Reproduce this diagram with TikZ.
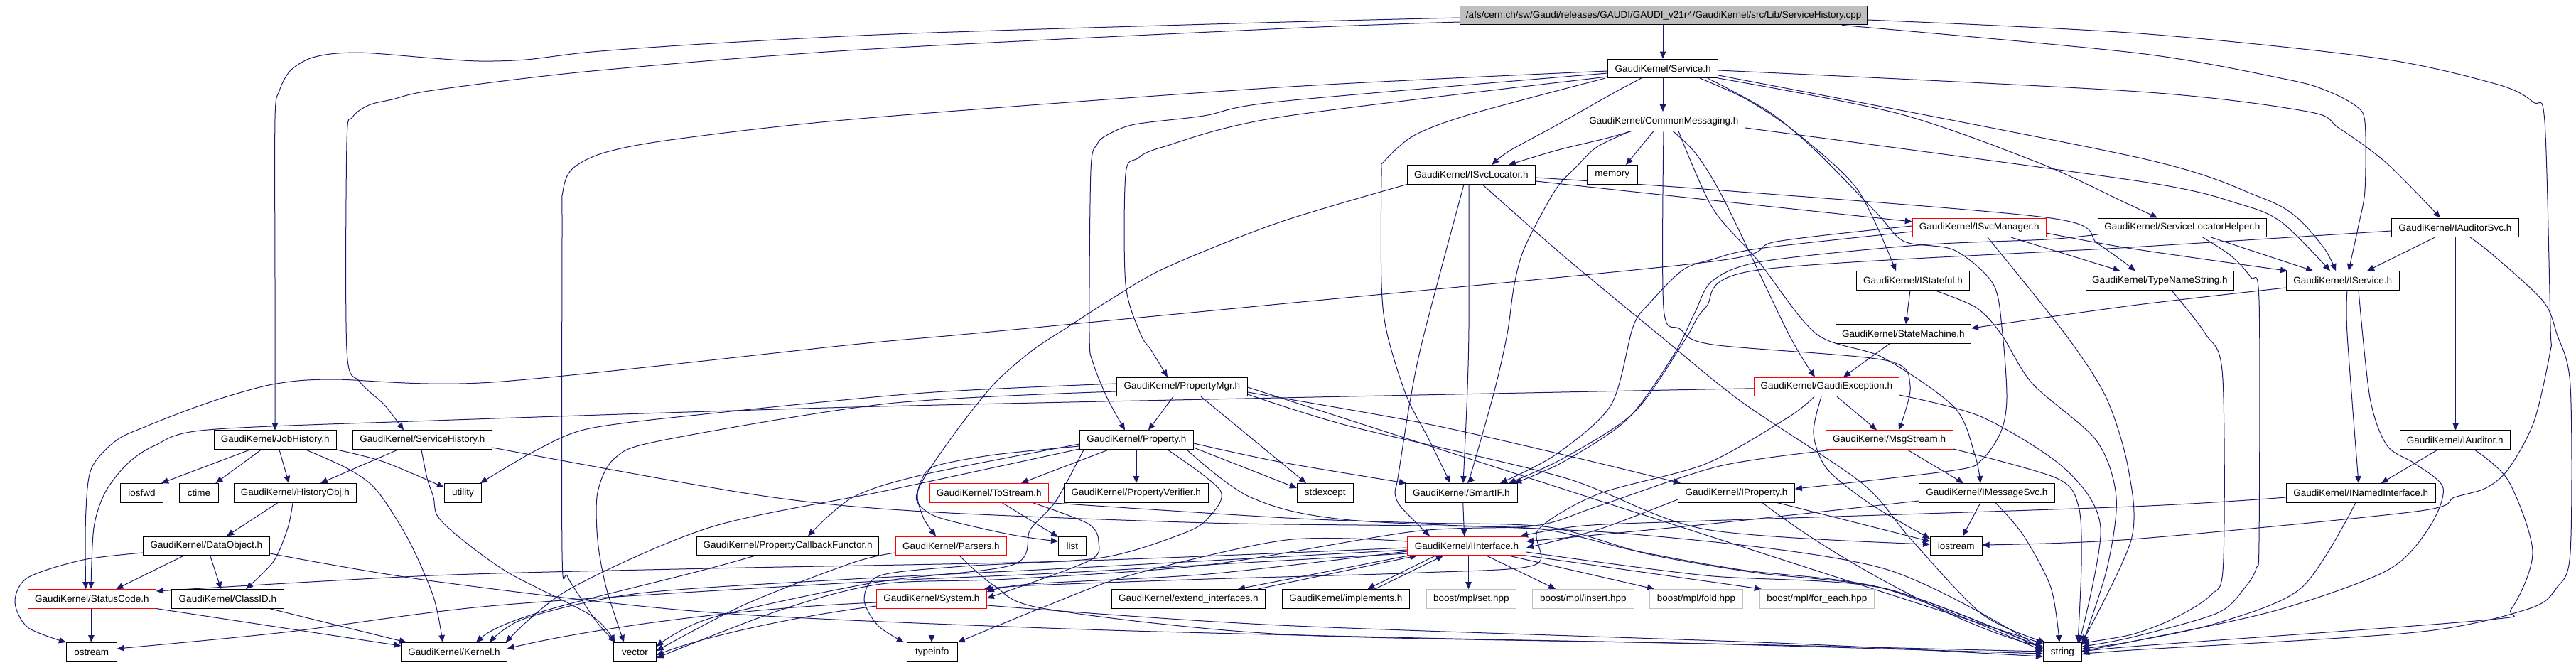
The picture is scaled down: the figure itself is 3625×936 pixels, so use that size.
\documentclass[tikz,border=0pt]{standalone}
\usepackage{fontspec}
\setmainfont{Liberation Sans}
\usetikzlibrary{arrows.meta}
\pgfdeclarelayer{bg}
\pgfsetlayers{bg,main}
\definecolor{edgec}{HTML}{191970}
\definecolor{grayb}{HTML}{BFBFBF}
\tikzset{
  nd/.style={draw=black, line width=1pt, rectangle, inner sep=0pt, minimum height=26.5pt,
    font=\fontsize{13.5pt}{16pt}\selectfont, text=black, fill=white},
  rednd/.style={nd, draw=red},
  graynd/.style={nd, draw=grayb},
  rootnd/.style={nd, fill=grayb},
  edg/.style={draw=edgec, line width=1pt, -{Triangle[length=10pt,width=8.5pt]}},
}
\newcommand\gn[5]{\node[#1,minimum width=#2pt] (#3) at (#4) {#5};}
\begin{document}
\begin{tikzpicture}[x=1pt,y=-1pt]
\useasboundingbox (0,0) rectangle (3625,936);
% ---------------- nodes ----------------
\gn{rootnd}{572.8}{root}{2341.2,21.7}{/afs/cern.ch/sw/Gaudi/releases/GAUDI/GAUDI\_v21r4/GaudiKernel/src/Lib/ServiceHistory.cpp}
\gn{nd}{154.6}{service}{2340.2,96.3}{GaudiKernel/Service.h}
\gn{nd}{228.4}{commsg}{2341.4,170.8}{GaudiKernel/CommonMessaging.h}
\gn{nd}{180.5}{isvcloc}{2070.4,245.8}{GaudiKernel/ISvcLocator.h}
\gn{nd}{71.6}{memory}{2268.8,245.8}{memory}
\gn{rednd}{188}{isvcmgr}{2785.3,320.3}{GaudiKernel/ISvcManager.h}
\gn{nd}{236.9}{slh}{3070.9,320.3}{GaudiKernel/ServiceLocatorHelper.h}
\gn{nd}{178.6}{iaudsvc}{3454.8,320.3}{GaudiKernel/IAuditorSvc.h}
\gn{nd}{159}{istateful}{2692,395}{GaudiKernel/IStateful.h}
\gn{nd}{208.2}{tns}{3039.4,395}{GaudiKernel/TypeNameString.h}
\gn{nd}{159}{isvc}{3296.7,395}{GaudiKernel/IService.h}
\gn{nd}{190.3}{statemachine}{2678.4,470}{GaudiKernel/StateMachine.h}
\gn{nd}{183.6}{propmgr}{1663.3,544.5}{GaudiKernel/PropertyMgr.h}
\gn{rednd}{203.8}{gaudiexc}{2570.4,544.5}{GaudiKernel/GaudiException.h}
\gn{nd}{171.6}{jobhist}{387.3,619.2}{GaudiKernel/JobHistory.h}
\gn{nd}{195.8}{servhist}{594.3,619.2}{GaudiKernel/ServiceHistory.h}
\gn{nd}{159.9}{property}{1599.3,619.2}{GaudiKernel/Property.h}
\gn{rednd}{179}{msgstream}{2658.7,619.2}{GaudiKernel/MsgStream.h}
\gn{nd}{154.6}{iauditor}{3454.8,619.2}{GaudiKernel/IAuditor.h}
\gn{nd}{60.3}{iosfwd}{199.4,693.8}{iosfwd}
\gn{nd}{54.8}{ctime}{279.9,693.8}{ctime}
\gn{nd}{171.6}{histobj}{415.3,693.8}{GaudiKernel/HistoryObj.h}
\gn{nd}{52.1}{utility}{651.4,693.8}{utility}
\gn{rednd}{166.5}{tostream}{1391.8,693.8}{GaudiKernel/ToStream.h}
\gn{nd}{203.1}{propverif}{1598.8,693.8}{GaudiKernel/PropertyVerifier.h}
\gn{nd}{79}{stdexcept}{1864.8,693.8}{stdexcept}
\gn{nd}{157.9}{smartif}{2056.4,693.8}{GaudiKernel/SmartIF.h}
\gn{nd}{163.9}{iproperty}{2443.4,693.8}{GaudiKernel/IProperty.h}
\gn{nd}{191}{imsgsvc}{2795.8,693.8}{GaudiKernel/IMessageSvc.h}
\gn{nd}{210.1}{inamed}{3322.2,693.8}{GaudiKernel/INamedInterface.h}
\gn{nd}{177.8}{dataobj}{290.4,768.3}{GaudiKernel/DataObject.h}
\gn{nd}{256.1}{pcf}{1108.6,768.3}{GaudiKernel/PropertyCallbackFunctor.h}
\gn{rednd}{156}{parsers}{1338.3,768.3}{GaudiKernel/Parsers.h}
\gn{nd}{38.9}{list}{1508.9,768.3}{list}
\gn{rednd}{166.9}{iinterface}{2064,768.3}{GaudiKernel/IInterface.h}
\gn{nd}{72.7}{iostream}{2752.7,768.3}{iostream}
\gn{rednd}{180.1}{statuscode}{129.4,842.8}{GaudiKernel/StatusCode.h}
\gn{nd}{158.3}{classid}{320.4,842.8}{GaudiKernel/ClassID.h}
\gn{rednd}{154.8}{system}{1310.9,842.8}{GaudiKernel/System.h}
\gn{nd}{215.5}{extend}{1672.3,842.8}{GaudiKernel/extend\_interfaces.h}
\gn{nd}{179}{implements}{1893.8,842.8}{GaudiKernel/implements.h}
\gn{graynd}{126}{set}{2070.4,842.8}{boost/mpl/set.hpp}
\gn{graynd}{142.8}{insert}{2227.8,842.8}{boost/mpl/insert.hpp}
\gn{graynd}{131.2}{fold}{2386.9,842.8}{boost/mpl/fold.hpp}
\gn{graynd}{161.1}{foreach}{2556.8,842.8}{boost/mpl/for\_each.hpp}
\gn{nd}{70.8}{ostream}{128.8,917.8}{ostream}
\gn{nd}{148.3}{kernel}{639,917.8}{GaudiKernel/Kernel.h}
\gn{nd}{59.9}{vector}{893.4,917.8}{vector}
\gn{nd}{71.2}{typeinfo}{1311.8,917.8}{typeinfo}
\gn{nd}{54.1}{string}{2902.4,917.8}{string}
% ---------------- edges ----------------
\begin{pgfonlayer}{bg}
\fill[white] (0,0) rectangle (3625,936);
% root
\draw[edg] (2340,0|-root.south) -- (2340,0|-service.north);
\draw[edg] plot[smooth] coordinates {(root.west|-0,25) (1810,31) (1433,42) (1210,50) (989,62) (833,73) (740,84) (674,86) (610,82) (539,76) (502,74) (465,76) (434,83) (408,100) (393,128) (387,167) (387,400) (387,0|-jobhist.north)};
\draw[edg] plot[smooth] coordinates {(root.west|-0,31) (1810,40) (1210,70) (833,100) (610,127) (552,140) (519,148) (496,165) (488,200) (488,493) (506,537) (541,570) (568,0|-servhist.north)};
\draw[edg] plot[smooth] coordinates {(2592,0|-root.south) (3010,75) (3219,112) (3275,128) (3315,149) (3328,172) (3328,267) (3319,317) (3305,0|-isvc.north)};
\draw[edg] plot[smooth] coordinates {(root.east|-0,28) (3010,47) (3347,82) (3515,119) (3565,144) (3581,172) (3589,460) (3589,493) (3566,593) (3530,660) (3498,687) (3454,700) (3399,720) (3000,759) (iostream.east|-0,767)};
% service
\draw[edg] (2340,0|-service.south) -- (2340,0|-commsg.north);
\draw[edg] plot[smooth] coordinates {(2309.6,0|-service.south) (2266.8,133) (2189,177) (2123,213) (2099.5,0|-isvcloc.north)};
\draw[edg] plot[smooth] coordinates {(service.west|-0,100) (1800,123) (1210,167) (950,196) (850,215) (805,238) (792,270) (791,330) (791,777) (798,810) (818,843) (841,877) (866,0|-vector.north)};
\draw[edg] plot[smooth] coordinates {(service.west|-0,103) (1800,143) (1694,163) (1597,175) (1558,190) (1544,203) (1535,240) (1533,470) (1538,510) (1558,560) (1583,0|-property.north)};
\draw[edg] plot[smooth] coordinates {(service.west|-0,108) (1800,165) (1636,207) (1601,223) (1584,245) (1584,400) (1605,470) (1620,493) (1643,0|-propmgr.north)};
\draw[edg] plot[smooth] coordinates {(2259,0|-service.south) (2072,160) (1991,190) (1948,227) (1944,247) (1944,400) (1952,470) (1979,557) (2010,617) (2041,0|-smartif.north)};
\draw[edg] plot[smooth] coordinates {(service.east|-0,99) (3010,129) (3247,157) (3291,180) (3359,230) (3434,0|-iaudsvc.north)};
\draw[edg] plot[smooth] coordinates {(service.east|-0,106) (3010,222) (3179,277) (3231,305) (3271,350) (3287,0|-isvc.north)};
\draw[edg] plot[smooth] coordinates {(service.south east) (2672,160) (2871,230) (2990,285) (3036,0|-slh.north)};
\draw[edg] plot[smooth] coordinates {(2392,0|-service.south) (2458,140) (2528,187) (2614,267) (2668,0|-istateful.north)};
\draw[edg] plot[smooth] coordinates {(2403,0|-service.south) (2489,157) (2556,213) (2641,300) (2680,340) (2750,352) (2805,400) (2818,470) (2824,560) (2816,607) (2789,647) (2750,662) (iproperty.east|-0,688)};
% commsg
\draw[edg] plot[smooth] coordinates {(2296,0|-commsg.south) (2259,195) (2189,212) (2123,0|-isvcloc.north)};
\draw[edg] (2327,0|-commsg.south) -- (2288,0|-memory.north);
\draw[edg] plot[smooth] coordinates {(commsg.east|-0,180) (3010,255) (3151,287) (3211,313) (3279,0|-isvc.north)};
\draw[edg] plot[smooth] coordinates {(2294,0|-commsg.south) (2247,207) (2220,233) (2189,267) (2146,347) (2131,400) (2121,470) (2103,550) (2072,660) (2064.5,0|-smartif.north)};
\draw[edg] plot[smooth] coordinates {(2354,0|-commsg.south) (2387,217) (2427,283) (2517,470) (2554,0|-gaudiexc.north)};
\draw[edg] plot[smooth] coordinates {(2362,0|-commsg.south) (2410,293) (2474,367) (2556,470) (2649,503) (2750,573) (2779,640) (2787,0|-imsgsvc.north)};
\draw[edg] plot[smooth] coordinates {(2341,0|-commsg.south) (2341,433) (2364,463) (2410,485) (2653,507) (2688,543) (2672,0|-msgstream.north)};
% isvcloc
\draw[edg] plot[smooth] coordinates {(isvcloc.east|-0,255) (2410,282) (isvcmgr.west|-0,312)};
\draw[edg] plot[smooth] coordinates {(isvcloc.east|-0,250) (2410,267) (2886,307) (2952,343) (3005,0|-tns.north)};
\draw[edg] plot[smooth] coordinates {(2067,0|-isvcloc.south) (2067,460) (2064.5,560) (2059,0|-smartif.north)};
\draw[edg] plot[smooth] coordinates {(2060,0|-isvcloc.south) (2004,470) (1985,560) (1967,673) (1963,693) (1971,713) (2012,0|-iinterface.north)};
\draw[edg] plot[smooth] coordinates {(2086,0|-isvcloc.south) (2200,360) (2333,470) (2450,565) (2620,680) (2690,760) (2790,865) (2878,0|-string.north)};
\draw[edg] plot[smooth] coordinates {(isvcloc.south west) (1800,313) (1640,377) (1562,422) (1503,460) (1453,493) (1402,537) (1356,593) (1313,653) (1293,687) (1291,707) (1320,728) (1420,752) (list.west|-0,762)};
% isvcmgr
\draw[edg] plot[smooth] coordinates {(isvcmgr.west|-0,326) (2474,350) (2410,365) (2368,380) (2321,427) (2298,460) (2267,570) (2189,640) (2111,0|-smartif.north)};
\draw[edg] (2830,0|-isvcmgr.south) -- (2983.5,0|-tns.north);
\draw[edg] plot[smooth] coordinates {(isvcmgr.east|-0,328) (3000,350) (3219,0|-isvc.north)};
\draw[edg] plot[smooth] coordinates {(2797,0|-isvcmgr.south) (2906,470) (2964,560) (2995,660) (2999,760) (string.north east)};
\draw[edg] plot[smooth] coordinates {(isvcmgr.west|-0,318) (2500,340) (2410,368) (1800,428) (1363,470) (1200,485) (693,538) (467,534) (389,540) (323,557) (264.5,577) (206,600) (163.4,620) (128.4,660) (120.6,727) (120.6,0|-statuscode.north)};
% gaudiexc
\draw[edg] plot[smooth] coordinates {(gaudiexc.west|-0,547) (2400,548) (1800,560) (1200,573) (610,592) (292,605) (218,627) (179,653) (148,693) (132,743) (128,0|-statuscode.north)};
\draw[edg] (2585,0|-gaudiexc.south) -- (2641,0|-msgstream.north);
\draw[edg] plot[smooth] coordinates {(2563,0|-gaudiexc.south) (2552,610) (2571,660) (2633,710) (iostream.west|-0,758)};
\draw[edg] plot[smooth] coordinates {(gaudiexc.east|-0,556) (2789,587) (2906,660) (2956,743) (2926,0|-string.north)};
\draw[edg] plot[smooth] coordinates {(2553,0|-gaudiexc.south) (2517,587) (2400,653) (2250,695) (2165,745) (2160,795) (2000,806) (1700,815) (1450,824) ([xshift=-4pt]system.north east)};
% statemachine / istateful
\draw[edg] (2659,0|-statemachine.south) -- (2594,0|-gaudiexc.north);
\draw[edg] (2688,0|-istateful.south) -- (2682,0|-statemachine.north);
\draw[edg] plot[smooth] coordinates {(2723,0|-istateful.south) (2781,433) (2816,470) (2860,540) (2950,620) (2978,700) (2965,800) (string.east|-0,908)};
% isvc
\draw[edg] plot[smooth] coordinates {(isvc.west|-0,405) (3000,430) (statemachine.east|-0,462)};
\draw[edg] plot[smooth] coordinates {(3303,0|-isvc.south) (3303,470) (3319,0|-inamed.north)};
\draw[edg] plot[smooth] coordinates {(3319,0|-isvc.south) (3335,560) (3359,627) (3399,653) (3438,687) (3418,743) (3359,803) (3200,860) (3000,903) (string.east|-0,916)};
% iaudsvc
\draw[edg] (3455.6,0|-iaudsvc.south) -- (3455.6,0|-iauditor.north);
\draw[edg] (3426.5,0|-iaudsvc.south) -- (3331,0|-isvc.north);
\draw[edg] plot[smooth] coordinates {(3476,0|-iaudsvc.south) (3506,357) (3578,423) (3598,470) (3617,543) (3617,777) (3598,827) (3558,857) (3399,890) (3000,915) (string.east|-0,921)};
\draw[edg] plot[smooth] coordinates {(iaudsvc.west|-0,325) (3000,348) (2474,380) (2400,433) (2370,480) (2300,580) (2200,645) (2123,0|-smartif.north)};
% slh
\draw[edg] plot[smooth] coordinates {(3099.6,0|-slh.south) (3139.5,360) (3167,390) (3179,423) (3179,760) (3175,800) (3159,827) (3120,863) (3000,897) (string.east|-0,910)};
\draw[edg] (3111.6,0|-slh.south) -- (3255,0|-isvc.north);
\draw[edg] plot[smooth] coordinates {(slh.west|-0,330) (2880,337) (2700,345) (2480,368) (2410,395) (2385,440) (2355,500) (2290,590) (2200,650) (2131,0|-smartif.north)};
% tns
\draw[edg] plot[smooth] coordinates {(3056,0|-tns.south) (3103.6,470) (3127.5,527) (3128.7,793) (3111.6,837) (3060,870) (3000,893) (string.east|-0,905)};
% iauditor
\draw[edg] (3430.5,0|-iauditor.south) -- (3350.8,0|-inamed.north);
\draw[edg] plot[smooth] coordinates {(3482,0|-iauditor.south) (3530,677) (3564,777) (3534,857) (3494,873) (3000,910) (string.east|-0,918)};
% inamed
\draw[edg] plot[smooth] coordinates {(inamed.west|-0,700) (3000,713) (2400,733) (2228,740) (2140,0|-iinterface.north)};
\draw[edg] plot[smooth] coordinates {(3315,0|-inamed.south) (3239,827) (3120,877) (3000,903) (string.east|-0,913)};
% imsgsvc
\draw[edg] (2787,0|-imsgsvc.south) -- (2762,0|-iostream.north);
\draw[edg] plot[smooth] coordinates {(2808,0|-imsgsvc.south) (2847,753) (2886,827) (2898,0|-string.north)};
\draw[edg] plot[smooth] coordinates {(imsgsvc.west|-0,705) (2400,738) (iinterface.east|-0,762)};
% iproperty
\draw[edg] plot[smooth] coordinates {(iproperty.west|-0,703) (2250,745) (iinterface.east|-0,771)};
\draw[edg] (2501,0|-iproperty.south) -- (iostream.west|-0,762);
\draw[edg] (2480,0|-iproperty.south) .. controls (2600,800) and (2780,890) .. (string.west|-0,910);
% msgstream
\draw[edg] (2684,0|-msgstream.south) -- (2763,0|-imsgsvc.north);
\draw[edg] plot[smooth] coordinates {(msgstream.east|-0,632) (2894,673) (2925,713) (2929,793) (2924,0|-string.north)};
\draw[edg] plot[smooth] coordinates {(2581,0|-msgstream.south) (2420,656) (2250,712) (2160,740) (1990,748) (1700,795) (1420,815) (1240,822) (1100,858) (vector.east|-0,926)};
% propmgr
\draw[edg] (1651,0|-propmgr.south) -- (1616,0|-property.north);
\draw[edg] plot[smooth] coordinates {(propmgr.west|-0,551) (1250,568) (931,620) (865,645) (841,693) (841,760) (853,827) (878,0|-vector.north)};
\draw[edg] plot[smooth] coordinates {(propmgr.west|-0,540) (1300,553) (1000,582) (830,603) (756,633) ([xshift=-2pt]utility.north east)};
\draw[edg] (1690,0|-propmgr.south) -- (1838,0|-stdexcept.north);
\draw[edg] plot[smooth] coordinates {(propmgr.east|-0,552) (2000,595) (2200,640) (2365,0|-iproperty.north)};
\draw[edg] plot[smooth] coordinates {(propmgr.east|-0,555) (1900,600) (2200,672) (2400,745) (iostream.west|-0,766)};
\draw[edg] (propmgr.east|-0,545) -- (string.west|-0,906);
% property
\draw[edg] (1560,0|-property.south) -- (1437,0|-tostream.north);
\draw[edg] (1599,0|-property.south) -- (1599,0|-propverif.north);
\draw[edg] plot[smooth] coordinates {(property.west|-0,625) (1300,668) (1200,700) (1137,0|-pcf.north)};
\draw[edg] plot[smooth] coordinates {(property.west|-0,628) (1400,640) (1316,656) (1297,675) (1291,700) (1300,730) (1317,0|-parsers.north)};
\draw[edg] (property.east|-0,630) -- (stdexcept.west|-0,687);
\draw[edg] plot[smooth] coordinates {(property.east|-0,624) (1800,650) ([xshift=2pt]smartif.north west)};
\draw[edg] plot[smooth] coordinates {(property.west|-0,632) (1250,690) (1000,742) (800,830) ([xshift=-2pt]kernel.north east)};
\draw[edg] plot[smooth] coordinates {(1525,0|-property.south) (1486,705) (1450,745) (1425,795) (1230,820) (1000,870) (vector.east|-0,910)};
\draw[edg] plot[smooth] coordinates {(1670,0|-property.south) (1760,700) (1900,732) (2300,752) (2650,800) (string.west|-0,914)};
\draw[edg] plot[smooth] coordinates {(1643,0|-property.south) (1717,690) (1702,727) (1667,750) (1550,785) (1355,797) (1239,810) (1216,843) (1235,880) (1272,0|-typeinfo.north)};
% tostream
\draw[edg] (1410,0|-tostream.south) -- (list.west|-0,756);
\draw[edg] plot[smooth] coordinates {(tostream.south east) (1810,729) (2000,736) (2180,742) (2320,780) (2470,806) (2660,830) (string.west|-0,912)};
\draw[edg] plot[smooth] coordinates {(1453,0|-tostream.south) (1531,737) (1546,763) (1531,790) (system.east|-0,842)};
% parsers
\draw[edg] plot[smooth] coordinates {(parsers.west|-0,778) (1200,792) (1050,850) (vector.east|-0,916)};
\draw[edg] plot[smooth] coordinates {(1350,0|-parsers.south) (1400,825) (1472,857) (1810,893) (2400,906) (string.west|-0,920)};
% pcf
\draw[edg] (1063,0|-pcf.south) .. controls (900,830) and (720,860) .. (670,0|-kernel.north);
% system
\draw[edg] (1311,0|-system.south) -- (1311,0|-typeinfo.north);
\draw[edg] (system.west|-0,848) .. controls (1000,858) and (800,892) .. (kernel.east|-0,913);
\draw[edg] (system.west|-0,853) .. controls (1100,870) and (980,900) .. (vector.east|-0,922);
\draw[edg] plot[smooth] coordinates {(system.east|-0,852) (1800,880) (2500,905) (string.west|-0,924)};
% jobhist
\draw[edg] (352,0|-jobhist.south) -- ([xshift=-3pt]iosfwd.north east);
\draw[edg] (367.6,0|-jobhist.south) -- (303.4,0|-ctime.north);
\draw[edg] (393,0|-jobhist.south) -- (406.5,0|-histobj.north);
\draw[edg] plot[smooth] coordinates {(jobhist.south east) (540,650) (utility.west|-0,686)};
\draw[edg] plot[smooth] coordinates {(430,0|-jobhist.south) (490,660) (530,690) (575,760) (610,840) (623,0|-kernel.north)};
% servhist
\draw[edg] (560,0|-servhist.south) -- (451,0|-histobj.north);
\draw[edg] plot[smooth] coordinates {(593,0|-servhist.south) (601,673) (610,700) (616,727) (651,760) (717,807) (833,867) ([xshift=2pt]vector.north west)};
\draw[edg] plot[smooth] coordinates {(servhist.east|-0,630) (1067,697) (1300,720) (1700,736) (2000,740) (2170,745) (2300,775) (2450,802) (2650,828) (string.west|-0,916)};
% histobj
\draw[edg] (391,0|-histobj.south) -- (319,0|-dataobj.north);
\draw[edg] plot[smooth] coordinates {(412,0|-histobj.south) (405,743) (385,790) (346,0|-classid.north)};
% dataobj
\draw[edg] (258.7,0|-dataobj.south) -- (163.4,0|-statuscode.north);
\draw[edg] (295.7,0|-dataobj.south) -- (311,0|-classid.north);
\draw[edg] plot[smooth] coordinates {(dataobj.west|-0,778) (117,788) (39,813) (21,847) (39,883) (ostream.north west)};
\draw[edg] plot[smooth] coordinates {(dataobj.east|-0,779) (610,818) (1000,862) (1500,885) (2000,898) (2500,908) (string.west|-0,917)};
% statuscode / classid
\draw[edg] (128.4,0|-statuscode.south) -- (128.4,0|-ostream.north);
\draw[edg] (statuscode.south east) -- (kernel.west|-0,909);
\draw[edg] (379.3,0|-classid.south) -- (571.9,0|-kernel.north);
% iinterface
\draw[edg] plot[smooth] coordinates {(iinterface.west|-0,776) (1700,808) (1450,822) (system.east|-0,833)};
\draw[edg] plot[smooth] coordinates {(iinterface.west|-0,771) (1500,790) (1000,800) (610,810) (statuscode.east|-0,832)};
\draw[edg] plot[smooth] coordinates {(iinterface.west|-0,774) (1500,800) (1200,815) (900,835) (740,870) (689,0|-kernel.north)};
\draw[edg] plot[smooth] coordinates {(iinterface.west|-0,779) (1500,806) (1200,820) (700,852) (400,890) (ostream.east|-0,913)};
\draw[edg] plot[smooth] coordinates {(iinterface.west|-0,762) (1810,760) (1589,810) (1472,853) (typeinfo.north east)};
\draw[edg] plot[smooth] coordinates {(iinterface.east|-0,777) (2400,810) (2650,828) (string.west|-0,913)};
\draw[edg] (1982,0|-iinterface.south) -- (1742,0|-extend.north);
\draw[edg] (1770,0|-extend.north) -- (1994,0|-iinterface.south);
\draw[edg] (2020,0|-iinterface.south) -- (1924.5,0|-implements.north);
\draw[edg] (1935,0|-implements.north) -- (2031,0|-iinterface.south);
\draw[edg] (2066.5,0|-iinterface.south) -- (2066.5,0|-set.north);
\draw[edg] (2091.8,0|-iinterface.south) -- (2189,0|-insert.north);
\draw[edg] (2123,0|-iinterface.south) -- (2328,0|-fold.north);
\draw[edg] (iinterface.south east) -- ([xshift=3pt]foreach.north west);
\draw[edg] (2058.7,0|-smartif.south) -- (2060.6,0|-iinterface.north);
\end{pgfonlayer}
\end{tikzpicture}
\end{document}
